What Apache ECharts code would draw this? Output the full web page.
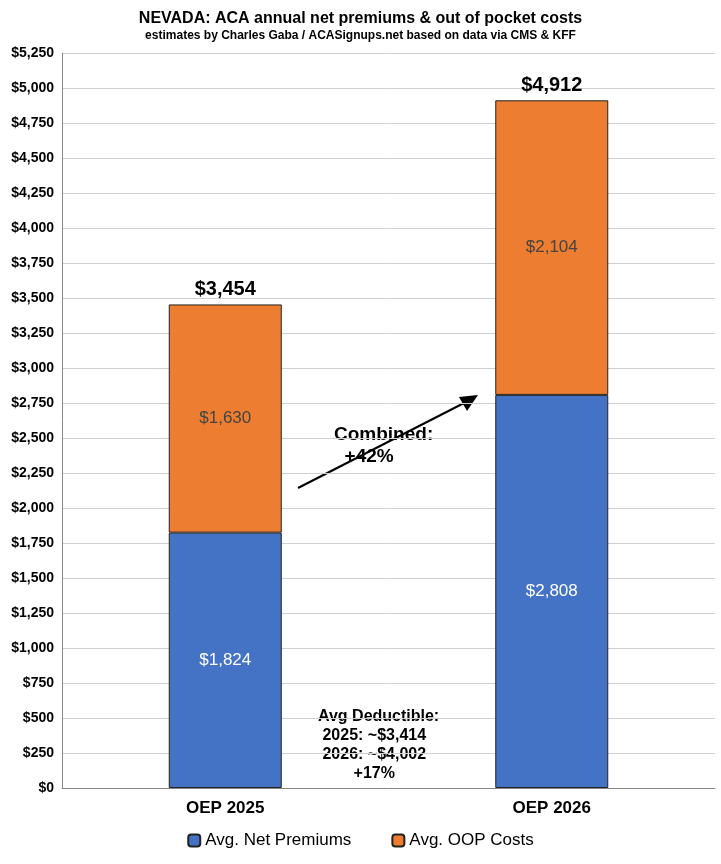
<!DOCTYPE html>
<html><head><meta charset="utf-8">
<script src="https://cdn.jsdelivr.net/npm/echarts@6/dist/echarts.min.js"></script>
<style>html,body{margin:0;padding:0;background:#fff}#c{width:721px;height:864px}</style>
</head><body><div id="c"></div>
<script>
const categories = ['OEP 2025', 'OEP 2026'];
const netPremiums = [1824, 2808];
const oopCosts = [1630, 2104];
const totals = netPremiums.map((v, i) => v + oopCosts[i]);
const fmt = v => '$' + v.toLocaleString('en-US');
const chart = echarts.init(document.getElementById('c'));
const F = 'Liberation Sans, Arial, sans-serif';
chart.setOption({
  animation: false,
  title: {
    text: 'NEVADA: ACA annual net premiums & out of pocket costs',
    subtext: 'estimates by Charles Gaba / ACASignups.net based on data via CMS & KFF',
    left: 'center', top: 6, itemGap: 3,
    textStyle: { fontFamily: F, fontSize: 16, fontWeight: 'bold', color: '#000' },
    subtextStyle: { fontFamily: F, fontSize: 12, fontWeight: 'bold', color: '#000' }
  },
  legend: {
    bottom: 10, itemWidth: 12, itemHeight: 12, itemGap: 40,
    textStyle: { fontFamily: F, fontSize: 17, color: '#000' },
    data: ['Avg. Net Premiums', 'Avg. OOP Costs']
  },
  grid: { left: 62, right: 6, top: 53, bottom: 76 },
  xAxis: {
    type: 'category', data: categories,
    axisTick: { show: false },
    axisLine: { lineStyle: { color: '#888' } },
    axisLabel: { fontFamily: F, fontSize: 17, fontWeight: 'bold', color: '#000', margin: 12 }
  },
  yAxis: {
    type: 'value', min: 0, max: 5250, interval: 250,
    axisLine: { show: true, lineStyle: { color: '#888' } },
    splitLine: { lineStyle: { color: '#d0d0d0' } },
    axisLabel: { fontFamily: F, fontSize: 14, fontWeight: 'bold', color: '#000', formatter: v => fmt(v) }
  },
  series: [
    {
      name: 'Avg. Net Premiums', type: 'bar', stack: 't', data: netPremiums, barWidth: 113,
      itemStyle: { color: '#4472C4', borderColor: '#222', borderWidth: 1 },
      label: { show: true, position: 'inside', color: '#fff', fontFamily: F, fontSize: 17, formatter: p => fmt(p.value) }
    },
    {
      name: 'Avg. OOP Costs', type: 'bar', stack: 't', data: oopCosts, barWidth: 113,
      itemStyle: { color: '#ED7D31', borderColor: '#222', borderWidth: 1 },
      label: { show: true, position: 'inside', color: '#444', fontFamily: F, fontSize: 17, formatter: p => fmt(p.value) }
    },
    {
      name: 'total', type: 'bar', stack: 't', data: totals.map(() => 0), barWidth: 113,
      label: { show: true, position: 'top', color: '#000', fontFamily: F, fontSize: 20, fontWeight: 'bold',
        formatter: p => fmt(totals[p.dataIndex]) }
    }
  ],
  graphic: [
    { type: 'text', left: 334, top: 424, style: { text: 'Combined:\n  +42%', font: 'bold 19px ' + F, fill: '#000', lineHeight: 22 } },
    { type: 'line', shape: { x1: 298, y1: 488, x2: 466, y2: 402 }, style: { stroke: '#000', lineWidth: 2 } },
    { type: 'polygon', shape: { points: [[478, 395], [459, 397], [467, 411]] }, style: { fill: '#000' } },
    { type: 'text', left: 318, top: 707, style: { text: 'Avg Deductible:\n 2025: ~$3,414\n 2026: ~$4,002\n        +17%', font: 'bold 16px ' + F, fill: '#000', lineHeight: 19 } }
  ]
});
</script></body></html>
